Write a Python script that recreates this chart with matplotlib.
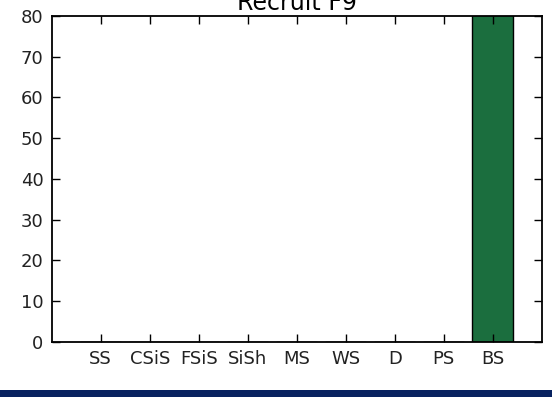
import matplotlib
matplotlib.use("Agg")
import matplotlib.pyplot as plt
import matplotlib.patches as mpatches

# sediment classes and counts for the recruit
categories = ["SS", "CSiS", "FSiS", "SiSh", "MS", "WS", "D", "PS", "BS"]
counts = [0, 0, 0, 0, 0, 0, 0, 0, 100]
yticks = [0, 10, 20, 30, 40, 50, 60, 70, 80]

fig = plt.figure(figsize=(5.52, 3.97), dpi=100)
fig.patch.set_facecolor("white")
ax = fig.add_axes([0.0937, 0.1393, 0.8876, 0.8204])

positions = list(range(len(categories)))
ax.bar(positions, counts, width=0.83, align="center",
       color="#1b6e3e", edgecolor="black", linewidth=1.0)

ax.set_xlim(-1, 9)
ax.set_ylim(0, 80)
ax.set_xticks(positions)
ax.set_xticklabels(categories)
ax.set_yticks(yticks)
ax.tick_params(direction="in", length=6, width=1.0, labelsize=13,
               top=True, right=True, pad=6, colors="black")
ax.tick_params(axis="x", labelcolor="#222222")
ax.tick_params(axis="y", labelcolor="#222222")
for sp in ax.spines.values():
    sp.set_linewidth(1.3)

ax.set_title("Recruit F9", fontsize=17, pad=4.5)

# dark footer strip along the bottom edge
fig.patches.append(mpatches.Rectangle((0, 0), 1, 7 / 397, transform=fig.transFigure,
                                      facecolor="#082260", edgecolor="none"))

fig.savefig("out.png", dpi=100)
